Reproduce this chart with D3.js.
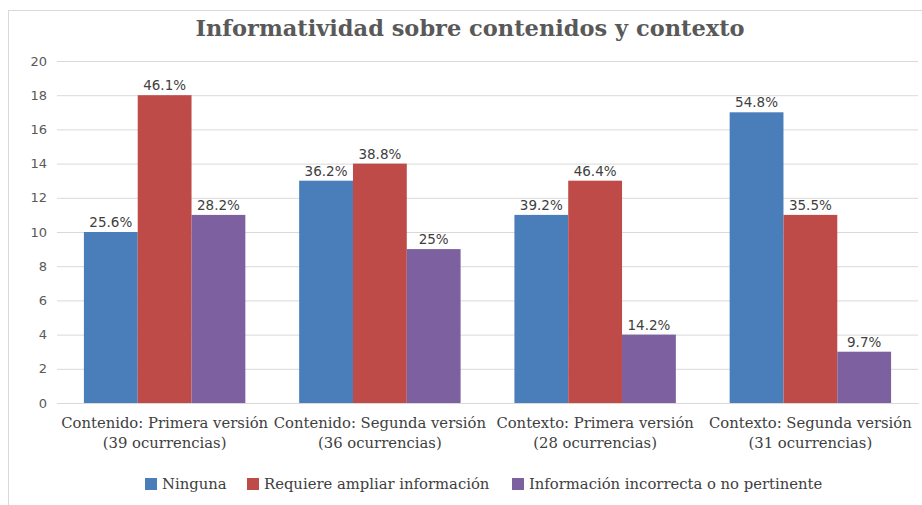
<!DOCTYPE html>
<html>
<head>
<meta charset="utf-8">
<script src="https://cdn.jsdelivr.net/npm/d3@7"></script>
<style>
  body { margin: 0; background: #fff; }
  svg { display: block; }
</style>
</head>
<body>
<div id="chart"></div>
<script>
// chart data
const categories = [
    ["Contenido: Primera versión", "(39 ocurrencias)"],
    ["Contenido: Segunda versión", "(36 ocurrencias)"],
    ["Contexto: Primera versión", "(28 ocurrencias)"],
    ["Contexto: Segunda versión", "(31 ocurrencias)"]
];
const seriesNames = ["Ninguna", "Requiere ampliar información", "Información incorrecta o no pertinente"];
const ninguna = [10, 13, 11, 17];
const requiere = [18, 14, 13, 11];
const incorrecta = [11, 9, 4, 3];
const pctNinguna = ["25.6%", "36.2%", "39.2%", "54.8%"];
const pctRequiere = ["46.1%", "38.8%", "46.4%", "35.5%"];
const pctIncorrecta = ["28.2%", "25%", "14.2%", "9.7%"];
const yTicks = [0, 2, 4, 6, 8, 10, 12, 14, 16, 18, 20];

const colors = ["#4a7ebb", "#be4b48", "#7d60a0"];
const serif = "'DejaVu Serif', serif";
const sans = "'DejaVu Sans', Verdana, sans-serif";

const W = 922, H = 505;
const margin = { top: 61, right: 4, bottom: 102, left: 57 },
    width = W - margin.left - margin.right,
    height = H - margin.top - margin.bottom;

const svg = d3.select("#chart").append("svg")
    .attr("width", W)
    .attr("height", H);

// outer chart border
svg.append("rect")
    .attr("x", 8.5).attr("y", 10.5)
    .attr("width", W - 8).attr("height", H - 10)
    .attr("fill", "none")
    .attr("stroke", "#d9d9d9");

svg.append("text")
    .attr("x", 470)
    .attr("y", 36)
    .attr("text-anchor", "middle")
    .style("font-family", serif)
    .style("font-weight", "bold")
    .style("font-size", "22.5px")
    .style("fill", "#595959")
    .text("Informatividad sobre contenidos y contexto");

const g = svg.append("g")
    .attr("transform", `translate(${margin.left},${margin.top})`);

const x0 = d3.scaleBand()
    .domain(d3.range(categories.length))
    .range([0, width])
    .paddingInner(0.25)
    .paddingOuter(0.125);

const x1 = d3.scaleBand()
    .domain(d3.range(3))
    .range([0, x0.bandwidth()]);

const y = d3.scaleLinear()
    .domain([0, 20])
    .range([height, 0]);

// gridlines + y axis labels
const yAxis = g.append("g")
    .call(d3.axisLeft(y).tickValues(yTicks).tickSize(-width).tickPadding(10));
yAxis.select(".domain").remove();
yAxis.selectAll(".tick line").attr("stroke", "#d9d9d9");
yAxis.selectAll(".tick text")
    .style("font-family", sans)
    .style("font-size", "13px")
    .style("fill", "#595959");

const series = [ninguna, requiere, incorrecta];
const pcts = [pctNinguna, pctRequiere, pctIncorrecta];

const groups = g.selectAll(".grp")
    .data(categories)
    .enter().append("g")
    .attr("class", "grp")
    .attr("transform", (d, i) => `translate(${x0(i)},0)`);

series.forEach((vals, s) => {
    groups.append("rect")
        .attr("x", x1(s))
        .attr("y", (d, i) => y(vals[i]))
        .attr("width", x1.bandwidth())
        .attr("height", (d, i) => height - y(vals[i]))
        .attr("fill", colors[s]);
    groups.append("text")
        .attr("x", x1(s) + x1.bandwidth() / 2)
        .attr("y", (d, i) => y(vals[i]) - 5)
        .attr("text-anchor", "middle")
        .style("font-family", sans)
        .style("font-size", "13.5px")
        .style("fill", "#404040")
        .text((d, i) => pcts[s][i]);
});

// category labels
const xAxis = g.append("g")
    .attr("transform", `translate(0,${height})`)
    .call(d3.axisBottom(x0).tickSize(0).tickFormat(""));
xAxis.select(".domain").attr("stroke", "#d9d9d9");

const catLab = g.selectAll(".cat")
    .data(categories)
    .enter().append("text")
    .attr("class", "cat")
    .attr("text-anchor", "middle")
    .attr("transform", (d, i) => `translate(${x0(i) + x0.bandwidth() / 2},${height + 25})`)
    .style("font-family", serif)
    .style("font-size", "14.8px")
    .style("fill", "#404040");
catLab.append("tspan").attr("x", 0).attr("dy", 0).text(d => d[0]);
catLab.append("tspan").attr("x", 0).attr("dy", 20).text(d => d[1]);

// legend
const legendX = [145, 247, 512];
const legend = svg.selectAll(".leg")
    .data(seriesNames)
    .enter().append("g")
    .attr("class", "leg")
    .attr("transform", (d, i) => `translate(${legendX[i]},478)`);
legend.append("rect")
    .attr("width", 12).attr("height", 12)
    .attr("fill", (d, i) => colors[i]);
legend.append("text")
    .attr("x", 17)
    .attr("y", 11)
    .style("font-family", serif)
    .style("font-size", "14.8px")
    .style("fill", "#404040")
    .text(d => d);
</script>
</body>
</html>
